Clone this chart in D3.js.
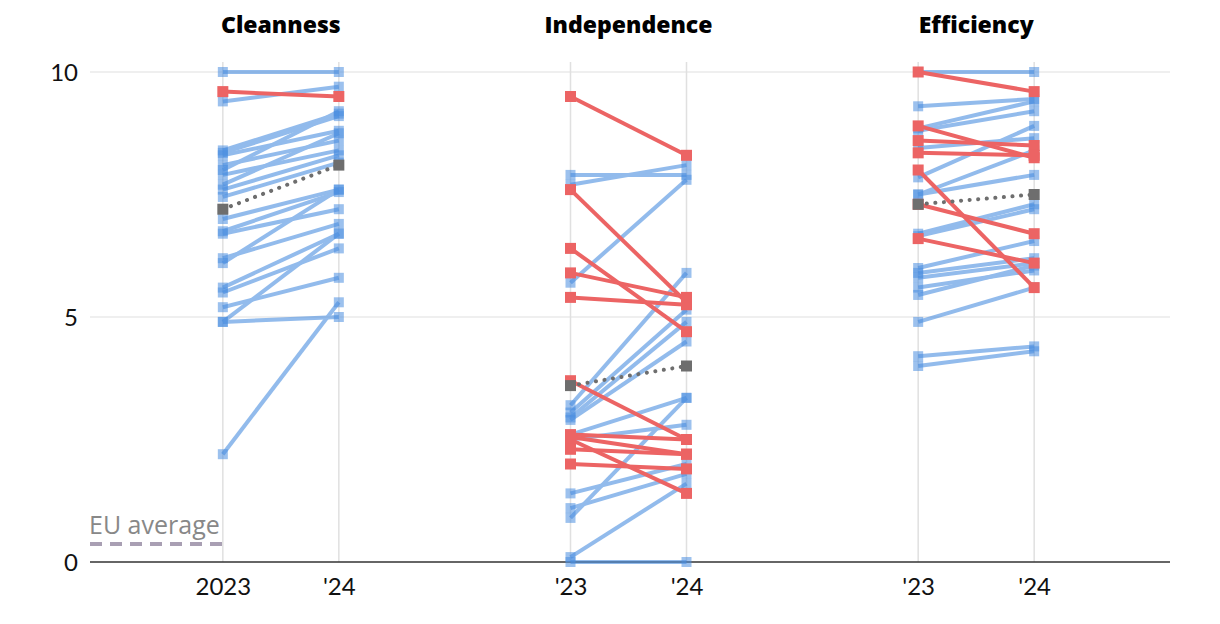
<!DOCTYPE html>
<html><head><meta charset="utf-8">
<script src="https://cdn.jsdelivr.net/npm/d3@7"></script>
<style>
html,body{margin:0;padding:0;background:#fff;}
svg{display:block;font-family:Lato,"Noto Sans",sans-serif;}
</style></head>
<body><svg id="chart" width="1220" height="624"></svg>
<script>
const panels = ["Cleanness", "Independence", "Efficiency"];
const yearLabels = [["2023", "'24"], ["'23", "'24"], ["'23", "'24"]];
const yTicks = [0, 5, 10];

// [2023, 2024] per country
const cleanness = [
  [10, 10], [9.6, 9.5], [9.4, 9.7], [8.4, 9.15], [8.35, 9.1], [8.3, 8.8], [8.1, 8.6],
  [8.0, 9.2], [7.9, 8.4], [7.7, 8.75], [7.6, 8.3], [7.45, 8.15], [7.0, 7.6],
  [6.75, 7.55], [6.7, 7.2], [6.2, 6.9], [6.1, 7.6], [5.6, 6.7], [5.5, 6.4], [5.2, 5.8],
  [4.9, 6.7], [4.9, 5.0], [2.2, 5.3]
];
const independence = [
  [9.5, 8.3], [7.9, 7.9], [7.7, 8.1], [7.6, 5.3], [6.4, 4.7], [5.9, 5.4], [5.7, 7.8],
  [5.4, 5.25], [3.7, 2.5], [3.2, 5.9], [3.05, 5.15], [2.95, 4.9], [2.9, 4.5],
  [2.6, 2.5], [2.6, 3.35], [2.55, 2.2], [2.5, 1.4], [2.5, 2.8], [2.3, 2.2], [2.0, 1.9],
  [1.4, 2.0], [1.1, 1.8], [0.9, 3.35], [0.1, 1.6], [0, 0]
];
const efficiency = [
  [10, 9.6], [10, 10], [9.3, 9.45], [8.9, 8.25], [8.85, 9.4], [8.8, 9.2], [8.6, 8.5],
  [8.45, 8.65], [8.35, 8.3], [8.0, 5.6], [7.85, 8.9], [7.5, 7.9], [7.5, 8.4],
  [7.3, 6.7], [6.7, 7.3], [6.65, 7.2], [6.6, 6.1], [6.0, 6.55], [5.9, 6.2], [5.8, 6.1],
  [5.6, 5.95], [5.45, 6.05], [4.9, 5.6], [4.2, 4.4], [4.0, 4.3]
];
const euAverage = [[7.2, 8.1], [3.6, 4.0], [7.3, 7.5]];
const legendLabel = "EU average";

const seriesData = [cleanness, independence, efficiency];

const svg = d3.select("#chart");
const mLeft = 90, mRight = 1170, mTop = 72, mBottom = 562;

const y = d3.scaleLinear().domain([0, 10]).range([mBottom, mTop]);
const xPanel = d3.scaleBand().domain(panels).range([107, 1150]);
const xYear = d3.scaleLinear().domain([0, 1]).range([-58, 58]);
const xPos = (p, i) => xPanel(p) + xPanel.bandwidth() / 2 + xYear(i);

// horizontal grid
svg.append("g").selectAll("line").data(yTicks.filter(d => d > 0)).join("line")
  .attr("x1", mLeft).attr("x2", mRight)
  .attr("y1", d => y(d)).attr("y2", d => y(d))
  .attr("stroke", "#e0e0e0").attr("stroke-width", 1.2);

// vertical grid
panels.forEach(p => {
  [0, 1].forEach(i => {
    svg.append("line")
      .attr("x1", xPos(p, i)).attr("x2", xPos(p, i))
      .attr("y1", 62).attr("y2", mBottom)
      .attr("stroke", "#e0e0e0").attr("stroke-width", 1.5);
  });
});

// y axis labels
const yAxis = d3.axisLeft(y).tickValues(yTicks).tickSize(0).tickPadding(0);
const ya = svg.append("g").attr("transform", `translate(78,0)`).call(yAxis);
ya.select(".domain").remove();
ya.selectAll("text").attr("font-size", 24).attr("fill", "#111")
  .attr("font-family", "Lato, 'Noto Sans', sans-serif").attr("dy", "0.35em");

// legend
svg.append("text").attr("x", 89).attr("y", 534).text(legendLabel)
  .attr("font-family", "'Open Sans', sans-serif")
  .attr("font-size", 25).attr("fill", "#888");
svg.append("line").attr("x1", 90).attr("x2", 226).attr("y1", 544).attr("y2", 544)
  .attr("stroke", "#a99fb3").attr("stroke-width", 4).attr("stroke-dasharray", "12,8");

// baseline
svg.append("line").attr("x1", mLeft).attr("x2", mRight)
  .attr("y1", mBottom).attr("y2", mBottom)
  .attr("stroke", "#333").attr("stroke-width", 1.5);

const blue = "#4a8ee0", red = "#ec6464", gray = "#6e6e6e";

panels.forEach((p, pi) => {
  const g = svg.append("g");
  const data = seriesData[pi];
  const blues = data.filter(d => d[1] >= d[0]);
  const reds = data.filter(d => d[1] < d[0]);

  // title
  svg.append("text").attr("x", xPanel(p) + xPanel.bandwidth() / 2).attr("y", 33)
    .attr("text-anchor", "middle").attr("font-size", 23).attr("font-weight", 800)
    .attr("font-family", "'Open Sans', sans-serif")
    .attr("fill", "#000").text(p);

  // x axis labels
  const xa = d3.scalePoint().domain(yearLabels[pi]).range([xPos(p, 0), xPos(p, 1)]);
  const axis = svg.append("g").attr("transform", `translate(0,${mBottom})`)
    .call(d3.axisBottom(xa).tickSize(0).tickPadding(16));
  axis.select(".domain").remove();
  axis.selectAll("text").attr("font-size", 24).attr("fill", "#111")
    .attr("font-family", "Lato, 'Noto Sans', sans-serif");

  // blue lines
  const bg = g.append("g").attr("opacity", 0.6);
  blues.forEach(d => {
    bg.append("line").attr("x1", xPos(p, 0)).attr("x2", xPos(p, 1))
      .attr("y1", y(d[0])).attr("y2", y(d[1]))
      .attr("stroke", blue).attr("stroke-width", 4);
  });
  blues.forEach(d => {
    [0, 1].forEach(i => {
      g.append("rect").attr("x", xPos(p, i) - 5).attr("y", y(d[i]) - 5)
        .attr("width", 10).attr("height", 10).attr("fill", blue).attr("opacity", 0.55);
    });
  });

  // red lines
  reds.forEach(d => {
    g.append("line").attr("x1", xPos(p, 0)).attr("x2", xPos(p, 1))
      .attr("y1", y(d[0])).attr("y2", y(d[1]))
      .attr("stroke", red).attr("stroke-width", 4);
    [0, 1].forEach(i => {
      g.append("rect").attr("x", xPos(p, i) - 5.5).attr("y", y(d[i]) - 5.5)
        .attr("width", 11).attr("height", 11).attr("fill", red);
    });
  });

  // EU average
  const e = euAverage[pi];
  g.append("line").attr("x1", xPos(p, 0)).attr("x2", xPos(p, 1))
    .attr("y1", y(e[0])).attr("y2", y(e[1]))
    .attr("stroke", gray).attr("stroke-width", 4)
    .attr("stroke-linecap", "round").attr("stroke-dasharray", "0.1,8.5");
  [0, 1].forEach(i => {
    g.append("rect").attr("x", xPos(p, i) - 5.5).attr("y", y(e[i]) - 5.5)
      .attr("width", 11).attr("height", 11).attr("fill", gray);
  });
});
</script></body></html>
